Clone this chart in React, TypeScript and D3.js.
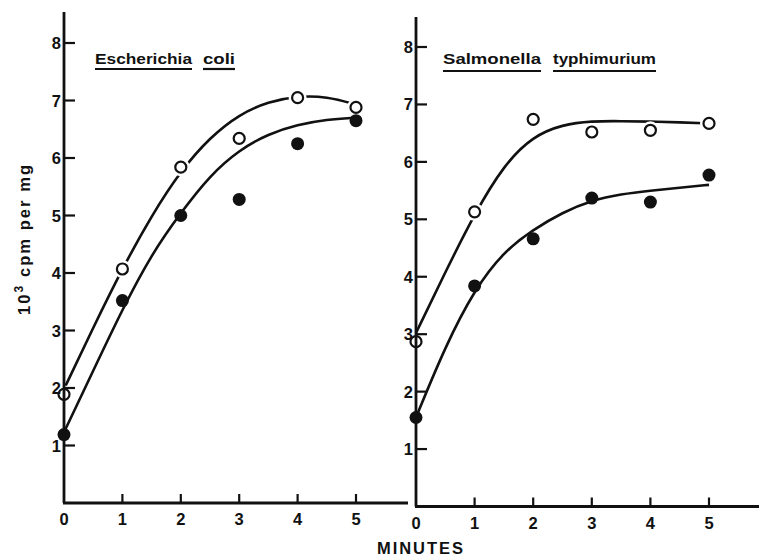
import * as d3 from 'd3'

const minutes = [0, 1, 2, 3, 4, 5]
const yTicks = [1, 2, 3, 4, 5, 6, 7, 8]

// measured points (10^3 cpm per mg)
const ecoliOpen = [1.89, 4.07, 5.84, 6.34, 7.05, 6.88]
const ecoliFilled = [1.19, 3.52, 5.0, 5.28, 6.25, 6.65]
const salmOpen = [2.87, 5.13, 6.74, 6.52, 6.55, 6.67]
const salmFilled = [1.55, 3.84, 4.66, 5.37, 5.3, 5.77]

// hand-drawn fitted curves, read every half minute
const curveX = [0, 0.5, 1, 1.5, 2, 2.5, 3, 3.5, 4, 4.5, 5]
const ecoliOpenCurve = [1.98, 3.05, 4.08, 5.0, 5.78, 6.36, 6.76, 6.98, 7.08, 7.07, 6.93]
const ecoliFilledCurve = [1.23, 2.3, 3.37, 4.33, 5.05, 5.7, 6.14, 6.42, 6.58, 6.67, 6.7]
const salmOpenCurve = [3.02, 4.08, 5.1, 5.95, 6.45, 6.65, 6.71, 6.71, 6.7, 6.69, 6.67]
const salmFilledCurve = [1.55, 2.79, 3.78, 4.44, 4.82, 5.12, 5.33, 5.44, 5.5, 5.55, 5.6]

const FONT = '"Liberation Sans", Arial, sans-serif'

interface PanelProps {
  left: number
  right: number
  base: number
  top8: number
  axisTop: number
  axisEnd: number
  open: number[]
  filled: number[]
  openCurve: number[]
  filledCurve: number[]
  words: { text: string; x0: number; x1: number }[]
  titleY: number
  lineY: number
}

function Panel(p: PanelProps) {
  const x = d3.scaleLinear([0, 5], [p.left, p.right])
  const y = d3.scaleLinear([0, 8], [p.base, p.top8])
  const line = d3.line<number>()
    .x((_, i) => x(curveX[i]))
    .y(d => y(d))
    .curve(d3.curveBasis)

  return (
    <g>
      <path d={line(p.openCurve) ?? ''} fill="none" stroke="#111" strokeWidth={2.6} />
      <path d={line(p.filledCurve) ?? ''} fill="none" stroke="#111" strokeWidth={2.6} />
      {minutes.map((m, i) => (
        <circle key={'h' + i} cx={x(m)} cy={y(p.open[i])} r={9} fill="#fff" />
      ))}
      {minutes.map((m, i) => (
        <circle key={'o' + i} cx={x(m)} cy={y(p.open[i])} r={5.5} fill="#fff" stroke="#111" strokeWidth={2.2} />
      ))}
      {minutes.map((m, i) => (
        <circle key={'f' + i} cx={x(m)} cy={y(p.filled[i])} r={6.5} fill="#111" />
      ))}

      {/* axes */}
      <line x1={p.left} x2={p.left} y1={p.axisTop} y2={p.base} stroke="#111" strokeWidth={2.8} />
      <line x1={p.left - 1} x2={p.axisEnd} y1={p.base} y2={p.base} stroke="#111" strokeWidth={2.8} />
      {yTicks.map(t => (
        <g key={'y' + t}>
          <line x1={p.left} x2={p.left + 11} y1={y(t)} y2={y(t)} stroke="#111" strokeWidth={2.2} />
          <text x={p.left - 3} y={y(t) + 6} textAnchor="end" fontSize={16.5} fontWeight="bold"
            fontFamily={FONT} fill="#111">{t}</text>
        </g>
      ))}
      {minutes.map(m => (
        <g key={'x' + m}>
          {m > 0 && <line x1={x(m)} x2={x(m)} y1={p.base} y2={p.base - 9} stroke="#111" strokeWidth={2.2} />}
          <text x={x(m)} y={p.base + 22} textAnchor="middle" fontSize={16.5} fontWeight="bold"
            fontFamily={FONT} fill="#111">{m}</text>
        </g>
      ))}

      {/* title */}
      {p.words.map(w => (
        <g key={w.text}>
          <text x={w.x0} y={p.titleY} textLength={w.x1 - w.x0} lengthAdjust="spacingAndGlyphs"
            fontSize={15} fontWeight="bold" fontFamily={FONT} fill="#111">{w.text}</text>
          <line x1={w.x0} x2={w.x1} y1={p.lineY} y2={p.lineY} stroke="#111" strokeWidth={2.2} />
        </g>
      ))}
    </g>
  )
}

export default function App() {
  return (
    <svg width={759} height={557} viewBox="0 0 759 557"
      style={{ position: 'absolute', left: 0, top: 0, background: '#fff' }}>
      <rect width={759} height={557} fill="#fff" />
      <Panel
        left={64} right={356} base={503} top8={43} axisTop={12} axisEnd={408}
        open={ecoliOpen} filled={ecoliFilled}
        openCurve={ecoliOpenCurve} filledCurve={ecoliFilledCurve}
        words={[{ text: 'Escherichia', x0: 95, x1: 192 }, { text: 'coli', x0: 203, x1: 235 }]}
        titleY={64} lineY={69}
      />
      <Panel
        left={416} right={709} base={506.5} top8={47} axisTop={17} axisEnd={759}
        open={salmOpen} filled={salmFilled}
        openCurve={salmOpenCurve} filledCurve={salmFilledCurve}
        words={[{ text: 'Salmonella', x0: 443, x1: 541 }, { text: 'typhimurium', x0: 553, x1: 656 }]}
        titleY={64} lineY={71}
      />
      <text transform="translate(30,240) rotate(-90)" textAnchor="middle" textLength={150}
        lengthAdjust="spacing" fontSize={16.5} fontWeight="bold" fontFamily={FONT} fill="#111">
        10<tspan dy={-7} fontSize={12}>3</tspan><tspan dy={7}> cpm per mg</tspan>
      </text>
      <text x={420} y={554} textAnchor="middle" textLength={86} lengthAdjust="spacing"
        fontSize={16.5} fontWeight="bold" fontFamily={FONT} fill="#111">MINUTES</text>
    </svg>
  )
}
